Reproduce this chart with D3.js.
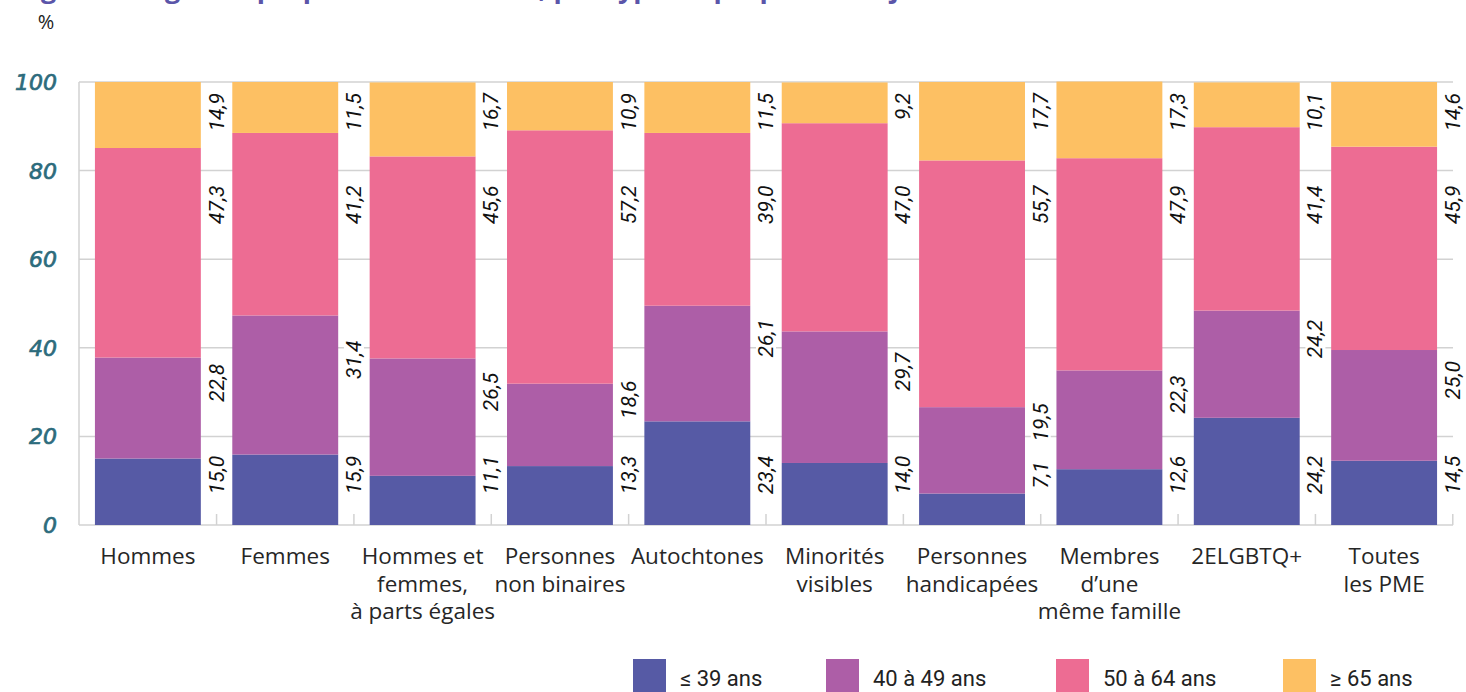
<!DOCTYPE html>
<html>
<head>
<meta charset="utf-8">
<script src="https://cdn.jsdelivr.net/npm/d3@7"></script>
<style>
  body { margin: 0; background: #fff; }
  svg { display: block; }
</style>
</head>
<body>
<div id="chart"></div>
<script>
// categories (one line per array entry)
const categories = [
  ["Hommes"],
  ["Femmes"],
  ["Hommes et", "femmes,", "à parts égales"],
  ["Personnes", "non binaires"],
  ["Autochtones"],
  ["Minorités", "visibles"],
  ["Personnes", "handicapées"],
  ["Membres", "d’une", "même famille"],
  ["2ELGBTQ+"],
  ["Toutes", "les PME"]
];

const seriesNames = ["≤ 39 ans", "40 à 49 ans", "50 à 64 ans", "≥ 65 ans"];
const seriesColors = ["#565aa5", "#ad5ea7", "#ed6c93", "#fdc063"];

// % per category, one array per age group
const age39  = [15.0, 15.9, 11.1, 13.3, 23.4, 14.0,  7.1, 12.6, 24.2, 14.5];
const age4049 = [22.8, 31.4, 26.5, 18.6, 26.1, 29.7, 19.5, 22.3, 24.2, 25.0];
const age5064 = [47.3, 41.2, 45.6, 57.2, 39.0, 47.0, 55.7, 47.9, 41.4, 45.9];
const age65  = [14.9, 11.5, 16.7, 10.9, 11.5,  9.2, 17.7, 17.3, 10.1, 14.6];

const yTicks = [0, 20, 40, 60, 80, 100];

const width = 1466, height = 692;
const plot = { left: 79, right: 1453, top: 82, bottom: 525 };

const fr = d3.formatLocale({ decimal: ",", thousands: " ", grouping: [3], currency: ["", " $"] });
const fmt = fr.format(".1f");

const svg = d3.select("#chart").append("svg")
  .attr("width", width)
  .attr("height", height);

const x = d3.scaleBand()
  .domain(d3.range(categories.length))
  .range([plot.left, plot.right])
  .paddingInner(0.229)
  .paddingOuter(0.116);

const y = d3.scaleLinear().domain([0, 100]).range([plot.bottom, plot.top]);

// title (cut off at the top of the frame, only descenders show)
svg.append("text")
  .attr("x", 18).attr("y", -2)
  .attr("fill", "#5b55a9")
  .style("font", "bold 27px 'Open Sans', sans-serif")
  .text("Figure 8 : Âge des propriétaires de PME, par type de propriété majoritaire");

svg.append("text")
  .attr("x", 46).attr("y", 29)
  .attr("text-anchor", "middle")
  .attr("fill", "#222")
  .style("font", "20px 'Open Sans', sans-serif")
  .text("%");

// grid
svg.append("g").selectAll("line")
  .data(yTicks)
  .join("line")
  .attr("x1", plot.left).attr("x2", plot.right)
  .attr("y1", d => y(d)).attr("y2", d => y(d))
  .attr("stroke", "#d2d2d2").attr("stroke-width", 1.5);

svg.append("line")
  .attr("x1", plot.left).attr("x2", plot.left)
  .attr("y1", y(100)).attr("y2", y(0))
  .attr("stroke", "#d2d2d2").attr("stroke-width", 1.5);

// category boundary ticks
const step = x.step();
const gapMid = i => x(i) + x.bandwidth() + (step - x.bandwidth()) / 2;
svg.append("g").selectAll("line")
  .data(d3.range(categories.length))
  .join("line")
  .attr("x1", gapMid).attr("x2", gapMid)
  .attr("y1", y(0) - 11).attr("y2", y(0))
  .attr("stroke", "#d2d2d2").attr("stroke-width", 1.5);

svg.append("g").selectAll("text")
  .data(yTicks)
  .join("text")
  .attr("x", 57).attr("y", d => y(d))
  .attr("dy", "0.36em")
  .attr("text-anchor", "end")
  .attr("fill", "#2c6b7c")
  .attr("stroke", "#2c6b7c")
  .attr("stroke-width", 0.7)
  .style("font", "italic 22px 'DejaVu Sans', sans-serif")
  .text(d => d);

// stacked bars
const rows = categories.map((c, i) => ({ i, v: [age39[i], age4049[i], age5064[i], age65[i]] }));
const stack = d3.stack().keys([0, 1, 2, 3]).value((d, k) => d.v[k]);
const layers = stack(rows);

svg.append("g").selectAll("g")
  .data(layers)
  .join("g")
  .attr("fill", (d, k) => seriesColors[k])
  .selectAll("rect")
  .data(d => d)
  .join("rect")
  .attr("x", d => x(d.data.i))
  .attr("width", x.bandwidth())
  .attr("y", d => y(d[1]))
  .attr("height", d => y(d[0]) - y(d[1]));

// value labels, rotated, in the gap right of each bar
const labelFont = "italic 21px Roboto, sans-serif";
const lblG = svg.append("g");
rows.forEach(r => {
  const cx = gapMid(r.i) + 7;
  const segs = layers.map(l => l[r.i]);
  const items = [
    { k: 0, pos: y(0) - 50, anchor: "middle" },   // near the baseline
    { k: 3, pos: y(100) + 11, anchor: "end" },    // just below 100
    { k: 2, pos: y(80) + 15, anchor: "end" },     // just under the 80 line
    { k: 1, pos: y((segs[1][0] + segs[1][1]) / 2) - 6, anchor: "start" }
  ];

  items.forEach(it => {
    it.g = lblG.append("g");
    it.bg = it.g.append("rect").attr("fill", "#fff");
    it.node = it.g.append("text")
      .attr("text-anchor", it.anchor)
      .attr("fill", "#111")
      .style("font", labelFont)
      .text(fmt(segs[it.k].data.v[it.k]));
  });

  // keep the 40-49 label clear of the bottom label
  const bottom = items[0], mid = items[3];
  const bw = bottom.node.node().getComputedTextLength();
  const limit = bottom.pos - bw / 2 - 20;
  if (mid.pos > limit) mid.pos = limit;

  items.forEach(it => {
    it.g.attr("transform", `translate(${cx},${it.pos}) rotate(-90)`);
    const b = it.node.node().getBBox();
    it.bg.attr("x", b.x - 2).attr("y", b.y + 2).attr("width", b.width + 4).attr("height", b.height - 4);
  });
});

// category labels
svg.append("g").selectAll("text")
  .data(categories)
  .join("text")
  .attr("x", (d, i) => x(i) + x.bandwidth() / 2)
  .attr("y", 564)
  .attr("text-anchor", "middle")
  .attr("fill", "#262626")
  .style("font", "22.5px 'Open Sans', sans-serif")
  .selectAll("tspan")
  .data(d => d)
  .join("tspan")
  .attr("x", function () { return d3.select(this.parentNode).attr("x"); })
  .attr("dy", (d, j) => j === 0 ? 0 : 27.5)
  .text(d => d);

// legend
const legX = [633, 826, 1056, 1283];
const leg = svg.append("g").selectAll("g")
  .data(seriesNames)
  .join("g")
  .attr("transform", (d, k) => `translate(${legX[k]},659)`);
leg.append("rect")
  .attr("width", 33).attr("height", 36)
  .attr("fill", (d, k) => seriesColors[k]);
leg.append("text")
  .attr("x", 47).attr("y", 27)
  .attr("fill", "#222")
  .style("font", "22px Roboto, sans-serif")
  .text(d => d);
</script>
</body>
</html>
